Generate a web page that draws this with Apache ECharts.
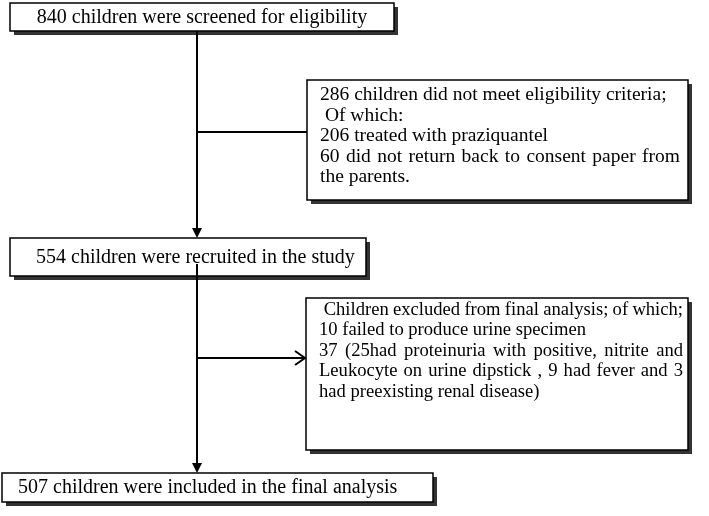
<!DOCTYPE html>
<html>
<head>
<meta charset="utf-8">
<script src="https://cdn.jsdelivr.net/npm/echarts@6/dist/echarts.min.js"></script>
<style>
  html, body { margin: 0; padding: 0; background: #fff; }
  #main { width: 709px; height: 516px; }
</style>
</head>
<body>
<div id="main"></div>
<script>
// flow chart texts
var screenedText = '840 children were screened for eligibility';
var notEligibleLines = [
  '286 children did not meet eligibility criteria;',
  ' Of which:',
  '206 treated with praziquantel',
  '60 did not return back to consent paper from',
  'the parents.'
];
var notEligibleJustify = [false, false, false, true, false];
var recruitedText = '554 children were recruited in the study';
var excludedLines = [
  ' Children excluded from final analysis; of which;',
  '10 failed to produce urine specimen',
  '37 (25had proteinuria with positive, nitrite and',
  'Leukocyte on urine dipstick , 9 had fever and 3',
  'had preexisting renal disease)'
];
var excludedJustify = [true, false, true, true, false];
var finalText = '507 children were included in the final analysis';

var mainFont = "20px 'Liberation Serif', 'Times New Roman', serif";
var box2Font = "19.5px 'Liberation Serif', 'Times New Roman', serif";
var box4Font = "18.6px 'Liberation Serif', 'Times New Roman', serif";

var measureCtx = document.createElement('canvas').getContext('2d');
function textWidth(t, font) {
  measureCtx.font = font;
  return measureCtx.measureText(t).width;
}

var elements = [];

// box with a dark drop shadow
function box(x, y, w, h) {
  elements.push({
    type: 'rect', z: 1,
    shape: { x: x + 4, y: y + 4, width: w, height: h },
    style: { fill: '#333' }
  });
  elements.push({
    type: 'rect', z: 2,
    shape: { x: x, y: y, width: w, height: h },
    style: { fill: '#fff', stroke: '#000', lineWidth: 1.5 }
  });
}

function label(t, x, y, font, align) {
  elements.push({
    type: 'text', z: 3,
    style: {
      text: t, x: x, y: y, font: font, fill: '#000',
      textAlign: align || 'left', textVerticalAlign: 'middle'
    }
  });
}

// lines, justified ones are spread word by word
function textBlock(lines, just, x0, x1, y0, lh, font) {
  for (var i = 0; i < lines.length; i++) {
    var y = y0 + i * lh;
    if (!just[i]) {
      label(lines[i], x0, y, font);
      continue;
    }
    var lead = lines[i].length - lines[i].replace(/^ +/, '').length;
    var start = x0 + textWidth(lines[i].slice(0, lead), font);
    var words = lines[i].trim().split(' ');
    var total = 0;
    var ws = words.map(function (w) { var m = textWidth(w, font); total += m; return m; });
    var gap = (x1 - start - total) / (words.length - 1);
    var x = start;
    for (var j = 0; j < words.length; j++) {
      label(words[j], x, y, font);
      x += ws[j] + gap;
    }
  }
}

function seg(x1, y1, x2, y2) {
  elements.push({
    type: 'line', z: 4,
    shape: { x1: x1, y1: y1, x2: x2, y2: y2 },
    style: { stroke: '#000', lineWidth: 2 }
  });
}

function downArrow(x, tipY) {
  elements.push({
    type: 'polygon', z: 4,
    shape: { points: [[x - 5, tipY - 10], [x + 5, tipY - 10], [x, tipY]] },
    style: { fill: '#000' }
  });
}

box(10, 3, 384, 28);
label(screenedText, 202, 18, mainFont, 'center');

box(307, 80, 381, 120);
textBlock(notEligibleLines, notEligibleJustify, 320, 680, 95, 20.5, box2Font);

box(10, 238, 356, 38);
label(recruitedText, 36, 258, mainFont);

box(306, 298, 382, 152);
textBlock(excludedLines, excludedJustify, 319, 683, 310, 20.5, box4Font);

box(2, 473, 431, 29);
label(finalText, 18, 488, mainFont);

// connectors
var cx = 197;
seg(cx, 31, cx, 229);
downArrow(cx, 238);
seg(cx, 132, 307, 132);

seg(cx, 264, cx, 464);
downArrow(cx, 473);
seg(cx, 358, 305, 358);
elements.push({
  type: 'polyline', z: 4,
  shape: { points: [[295, 351], [305, 358], [295, 365]] },
  style: { stroke: '#000', lineWidth: 2, fill: null }
});

var chart = echarts.init(document.getElementById('main'));
chart.setOption({
  backgroundColor: '#fff',
  animation: false,
  graphic: { elements: elements }
});
window.addEventListener('resize', function () { chart.resize(); });
</script>
</body>
</html>
